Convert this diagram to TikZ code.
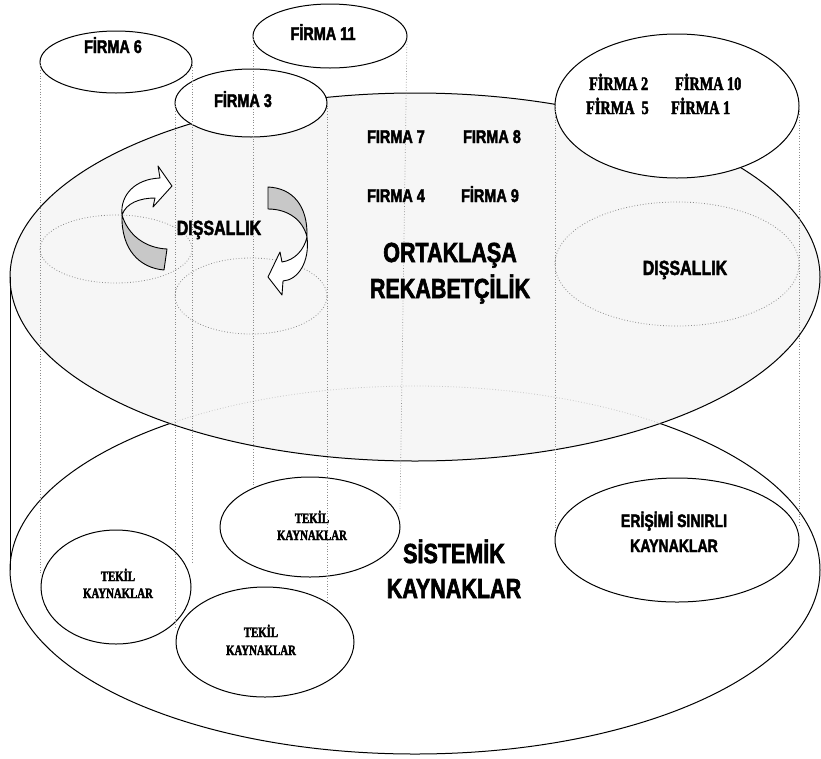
\documentclass[tikz,border=0pt]{standalone}
\usepackage{fontspec}
\usetikzlibrary{shapes.geometric}
\newfontfamily\narrowsans{Liberation Sans}[FakeStretch=0.78, FakeBold=2.2]
\newfontfamily\narrowserif{Liberation Serif}[FakeStretch=0.75, FakeBold=2.2]
\definecolor{bandgray}{RGB}{200,200,200}
\begin{document}
\begin{tikzpicture}[x=1pt,y=-1pt,
  outline/.style={ellipse, draw=black, line width=1pt, inner sep=0pt, outer sep=0pt},
  firm/.style={outline, fill=white},
  shadowell/.style={ellipse, draw=gray!90, dotted, line width=0.8pt, inner sep=0pt},
  guide/.style={draw=gray!90, dotted, line width=0.7pt},
  ribbon/.style={draw=black, line width=0.9pt, line join=round},
  slbl/.style={font=\narrowsans\fontsize{18.5}{20}\selectfont, anchor=base, inner sep=0pt},
  mlbl/.style={font=\narrowsans\fontsize{20.5}{22}\selectfont, anchor=base, inner sep=0pt},
  blbl/.style={font=\narrowsans\fontsize{27.6}{30}\selectfont, anchor=base, inner sep=0pt},
  elbl/.style={font=\narrowsans\fontsize{18}{20}\selectfont, anchor=base, inner sep=0pt},
  flbl/.style={font=\narrowserif\fontsize{19}{21}\selectfont, anchor=base west, inner sep=0pt},
  tlbl/.style={font=\narrowserif\fontsize{14.4}{16}\selectfont, anchor=base, inner sep=0pt}]

% background / bounding box
\fill[white] (0,0) rectangle (821,758);
\useasboundingbox (0,0) rectangle (821,758);

% bottom disc (SISTEMIK)
\node[outline, minimum width=810pt, minimum height=368pt] (bot) at (415,570) {};
% top disc (ORTAKLASA)
\node[outline, fill=gray!7, minimum width=810pt, minimum height=368pt] (top) at (415,277) {};
\draw[line width=1pt] (top.west) -- (bot.west);
% hidden part of bottom disc seen through top disc
\begin{scope}
  \clip (415,277) ellipse [x radius=405, y radius=184];
  \draw[gray!45, dotted, line width=0.8pt] (415,570) ellipse [x radius=405, y radius=184];
\end{scope}

% projected (dotted) ellipses on top disc
\node[shadowell, minimum width=152pt, minimum height=68pt] (d6) at (116,249) {};
\node[shadowell, minimum width=152pt, minimum height=76pt] (d3) at (251,296) {};
\node[shadowell, minimum width=244pt, minimum height=124pt] (dbig) at (677,264) {};

% firm ellipses
\node[firm, minimum width=152pt, minimum height=62pt] (f6) at (116,62) {};
\node[firm, minimum width=154pt, minimum height=64pt] (f11) at (330,36) {};
\node[firm, minimum width=152pt, minimum height=68pt] (f3) at (251,103) {};
\node[firm, minimum width=244pt, minimum height=144pt] (fbig) at (677,106) {};

% resource ellipses on bottom disc
\node[outline, minimum width=150pt, minimum height=114pt] (t1) at (116,587) {};
\node[outline, minimum width=180pt, minimum height=100pt] (t2) at (310,527) {};
\node[outline, minimum width=178pt, minimum height=110pt] (t3) at (265,642) {};
\node[outline, minimum width=244pt, minimum height=124pt] (er) at (677,540) {};

% vertical dotted guide lines
\draw[guide] (f6.west) -- ++(0,513);
\draw[guide] (f6.east) -- ++(0,501);
\draw[guide] (f3.west) -- ++(0,524);
\draw[guide] (f11.west) -- ++(0,449);
\draw[guide] (f3.east) -- ++(0,497);
\coordinate (f11end) at (400,510);
\draw[guide] (f11.east) -- (f11end);
\draw[guide] (fbig.west) -- ++(0,424);
\draw[guide] (fbig.east) -- ++(0,421);

% curved arrow 1 (left)
\filldraw[ribbon, fill=bandgray] (122,215) .. controls (128,235) and (145,248) .. (167,249)
   -- (164,270) .. controls (140,268) and (121,250) .. (122,215) -- cycle;
\filldraw[ribbon, fill=white] (122,215) .. controls (120,195) and (135,179) .. (160,178)
   -- (158,166) -- (172,186) -- (153,207) -- (155,198)
   .. controls (140,198) and (126,203) .. (122,215) -- cycle;
% curved arrow 2 (right)
\filldraw[ribbon, fill=bandgray] (268,187) -- (268,209) .. controls (288,209) and (303,220) .. (307,237)
   .. controls (308,205) and (292,188) .. (268,187) -- cycle;
\filldraw[ribbon, fill=white] (307,237) .. controls (310,262) and (298,280) .. (283,281)
   -- (282,295) -- (268,277) -- (280,252) -- (282,262)
   .. controls (295,260) and (304,250) .. (307,237) -- cycle;

% texts
\node[slbl] (l6) at (113,53) {\bfseries FİRMA 6};
\node[slbl] (l11) at (323,40) {\bfseries FİRMA 11};
\node[slbl] (l3) at (243,107) {\bfseries FİRMA 3};
\node[slbl] (l7) at (396,143) {\bfseries FIRMA 7};
\node[slbl] (l8) at (492,143) {\bfseries FIRMA 8};
\node[slbl] (l4) at (396,202) {\bfseries FIRMA 4};
\node[slbl] (l9) at (490,202) {\bfseries FİRMA 9};
\node[mlbl] (dis1) at (219,235) {\bfseries DIŞSALLIK};
\node[mlbl] (dis2) at (685,275) {\bfseries DIŞSALLIK};
\node[blbl] (ort1) at (450,262) {\bfseries ORTAKLAŞA};
\node[blbl] (ort2) at (450,298) {\bfseries REKABETÇİLİK};
\node[blbl] (sis1) at (454,563) {\bfseries SİSTEMİK};
\node[blbl] (sis2) at (454,598) {\bfseries KAYNAKLAR};
\node[elbl] (er1) at (674,527) {\bfseries ERİŞİMİ SINIRLI};
\node[elbl] (er2) at (674,552) {\bfseries KAYNAKLAR};
\node[flbl] (f2l) at (589,90) {\bfseries FİRMA 2};
\node[flbl] (f10l) at (675,90) {\bfseries FİRMA 10};
\node[flbl] (f5l) at (586,114) {\bfseries FİRMA\ \ 5};
\node[flbl] (f1l) at (671,114) {\bfseries FİRMA 1};
\node[tlbl] (t1a) at (118,581) {\bfseries TEKİL};
\node[tlbl] (t1b) at (118,598) {\bfseries KAYNAKLAR};
\node[tlbl] (t2a) at (312,523) {\bfseries TEKİL};
\node[tlbl] (t2b) at (312,540) {\bfseries KAYNAKLAR};
\node[tlbl] (t3a) at (261,637) {\bfseries TEKİL};
\node[tlbl] (t3b) at (261,655) {\bfseries KAYNAKLAR};
\end{tikzpicture}
\end{document}
